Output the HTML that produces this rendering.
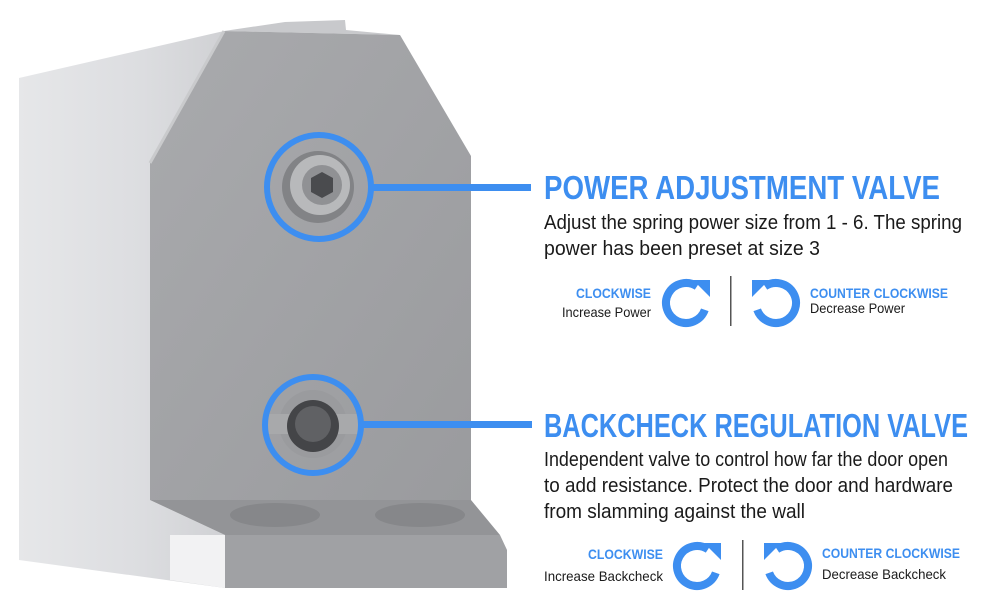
<!DOCTYPE html>
<html><head><meta charset="utf-8"><style>
html,body{margin:0;padding:0;background:#fff;}
svg{display:block;}
</style></head><body>
<svg width="990" height="616" viewBox="0 0 990 616" xmlns="http://www.w3.org/2000/svg">
<defs>
<linearGradient id="side" x1="0" y1="0" x2="1" y2="0">
<stop offset="0" stop-color="#e6e7e9"/><stop offset="0.6" stop-color="#dcdde0"/><stop offset="1" stop-color="#d0d1d4"/>
</linearGradient>
<linearGradient id="face" x1="0" y1="0" x2="1" y2="1">
<stop offset="0" stop-color="#a9aaad"/><stop offset="1" stop-color="#9a9b9e"/>
</linearGradient>
</defs>
<polygon points="19,78 224,31 150,163 150,500 225,535 225,588 19,560" fill="url(#side)"/>
<polygon points="170,535 225,535 225,588 170,580" fill="#f2f2f3"/>
<polygon points="224,31 285,22 345,20 346,30 400,35" fill="#c8c9cc"/>
<polygon points="150,163 224,31 400,35 471,156 471,500 150,500" fill="url(#face)"/>
<line x1="150" y1="163" x2="224" y2="31" stroke="#c9cacc" stroke-width="3"/>
<polygon points="150,500 471,500 500,535 225,535" fill="#939497"/>
<ellipse cx="275" cy="515" rx="45" ry="12" fill="#86878a"/>
<ellipse cx="420" cy="515" rx="45" ry="12" fill="#86878a"/>
<polygon points="225,535 500,535 507,550 507,588 225,588" fill="#a0a1a4"/>
<circle cx="318" cy="187" r="36" fill="#828386"/>
<circle cx="320" cy="185" r="30" fill="#b8b9bb"/>
<circle cx="322" cy="185" r="20" fill="#909194"/>
<polygon points="322,172 333,178 333,192 322,198 311,192 311,178" fill="#4a4b4e"/>
<circle cx="313" cy="424" r="34" fill="#9a9b9e"/>
<rect x="266" y="414" width="94" height="20" fill="#a8a9ab"/>
<circle cx="313" cy="426" r="26" fill="#444548"/>
<circle cx="313" cy="424" r="18" fill="#606164"/>
<g stroke="#3d8ef0" stroke-width="6" fill="none">
<circle cx="319" cy="187" r="52"/>
<circle cx="313" cy="425" r="48"/>
</g>
<rect x="371" y="184" width="160" height="7" fill="#3d8ef0"/>
<rect x="362" y="421" width="170" height="7" fill="#3d8ef0"/>
<g font-family="'Liberation Sans Narrow','Liberation Sans',sans-serif">
<text x="544" y="199" font-size="33" font-weight="bold" fill="#3d8ef0" textLength="396" lengthAdjust="spacingAndGlyphs">POWER ADJUSTMENT VALVE</text>
<text x="544" y="229" font-size="20" fill="#1a1a1a" textLength="418" lengthAdjust="spacingAndGlyphs">Adjust the spring power size from 1 - 6. The spring</text>
<text x="544" y="255" font-size="20" fill="#1a1a1a" textLength="276" lengthAdjust="spacingAndGlyphs">power has been preset at size 3</text>
<text x="544" y="437" font-size="33" font-weight="bold" fill="#3d8ef0" textLength="424" lengthAdjust="spacingAndGlyphs">BACKCHECK REGULATION VALVE</text>
<text x="544" y="466" font-size="20" fill="#1a1a1a" textLength="404" lengthAdjust="spacingAndGlyphs">Independent valve to control how far the door open</text>
<text x="544" y="492" font-size="20" fill="#1a1a1a" textLength="409" lengthAdjust="spacingAndGlyphs">to add resistance. Protect the door and hardware</text>
<text x="544" y="518" font-size="20" fill="#1a1a1a" textLength="261" lengthAdjust="spacingAndGlyphs">from slamming against the wall</text>
<text x="576" y="298" font-size="14" font-weight="bold" fill="#3d8ef0" textLength="75" lengthAdjust="spacingAndGlyphs">CLOCKWISE</text>
<text x="562" y="317" font-size="14" fill="#1a1a1a" textLength="89" lengthAdjust="spacingAndGlyphs">Increase Power</text>
<text x="810" y="298" font-size="14" font-weight="bold" fill="#3d8ef0" textLength="138" lengthAdjust="spacingAndGlyphs">COUNTER CLOCKWISE</text>
<text x="810" y="313" font-size="14" fill="#1a1a1a" textLength="95" lengthAdjust="spacingAndGlyphs">Decrease Power</text>
<text x="588" y="559" font-size="14" font-weight="bold" fill="#3d8ef0" textLength="75" lengthAdjust="spacingAndGlyphs">CLOCKWISE</text>
<text x="544" y="581" font-size="14" fill="#1a1a1a" textLength="119" lengthAdjust="spacingAndGlyphs">Increase Backcheck</text>
<text x="822" y="558" font-size="14" font-weight="bold" fill="#3d8ef0" textLength="138" lengthAdjust="spacingAndGlyphs">COUNTER CLOCKWISE</text>
<text x="822" y="579" font-size="14" fill="#1a1a1a" textLength="124" lengthAdjust="spacingAndGlyphs">Decrease Backcheck</text>
</g>
<rect x="730" y="276" width="1.5" height="50" fill="#555"/>
<rect x="742" y="540" width="1.5" height="50" fill="#555"/>
<g transform="translate(686,303)">
<path d="M18.8,6.8 A20,20 0 1 1 11,-16.7" stroke="#3d8ef0" stroke-width="8" fill="none"/>
<polygon points="7,-23 24,-23 24,-6" fill="#3d8ef0"/>
</g>
<g transform="translate(776,303) scale(-1,1)">
<path d="M18.8,6.8 A20,20 0 1 1 11,-16.7" stroke="#3d8ef0" stroke-width="8" fill="none"/>
<polygon points="7,-23 24,-23 24,-6" fill="#3d8ef0"/>
</g>
<g transform="translate(697,566)">
<path d="M18.8,6.8 A20,20 0 1 1 11,-16.7" stroke="#3d8ef0" stroke-width="8" fill="none"/>
<polygon points="7,-23 24,-23 24,-6" fill="#3d8ef0"/>
</g>
<g transform="translate(788,566) scale(-1,1)">
<path d="M18.8,6.8 A20,20 0 1 1 11,-16.7" stroke="#3d8ef0" stroke-width="8" fill="none"/>
<polygon points="7,-23 24,-23 24,-6" fill="#3d8ef0"/>
</g>
</svg>
</body></html>
